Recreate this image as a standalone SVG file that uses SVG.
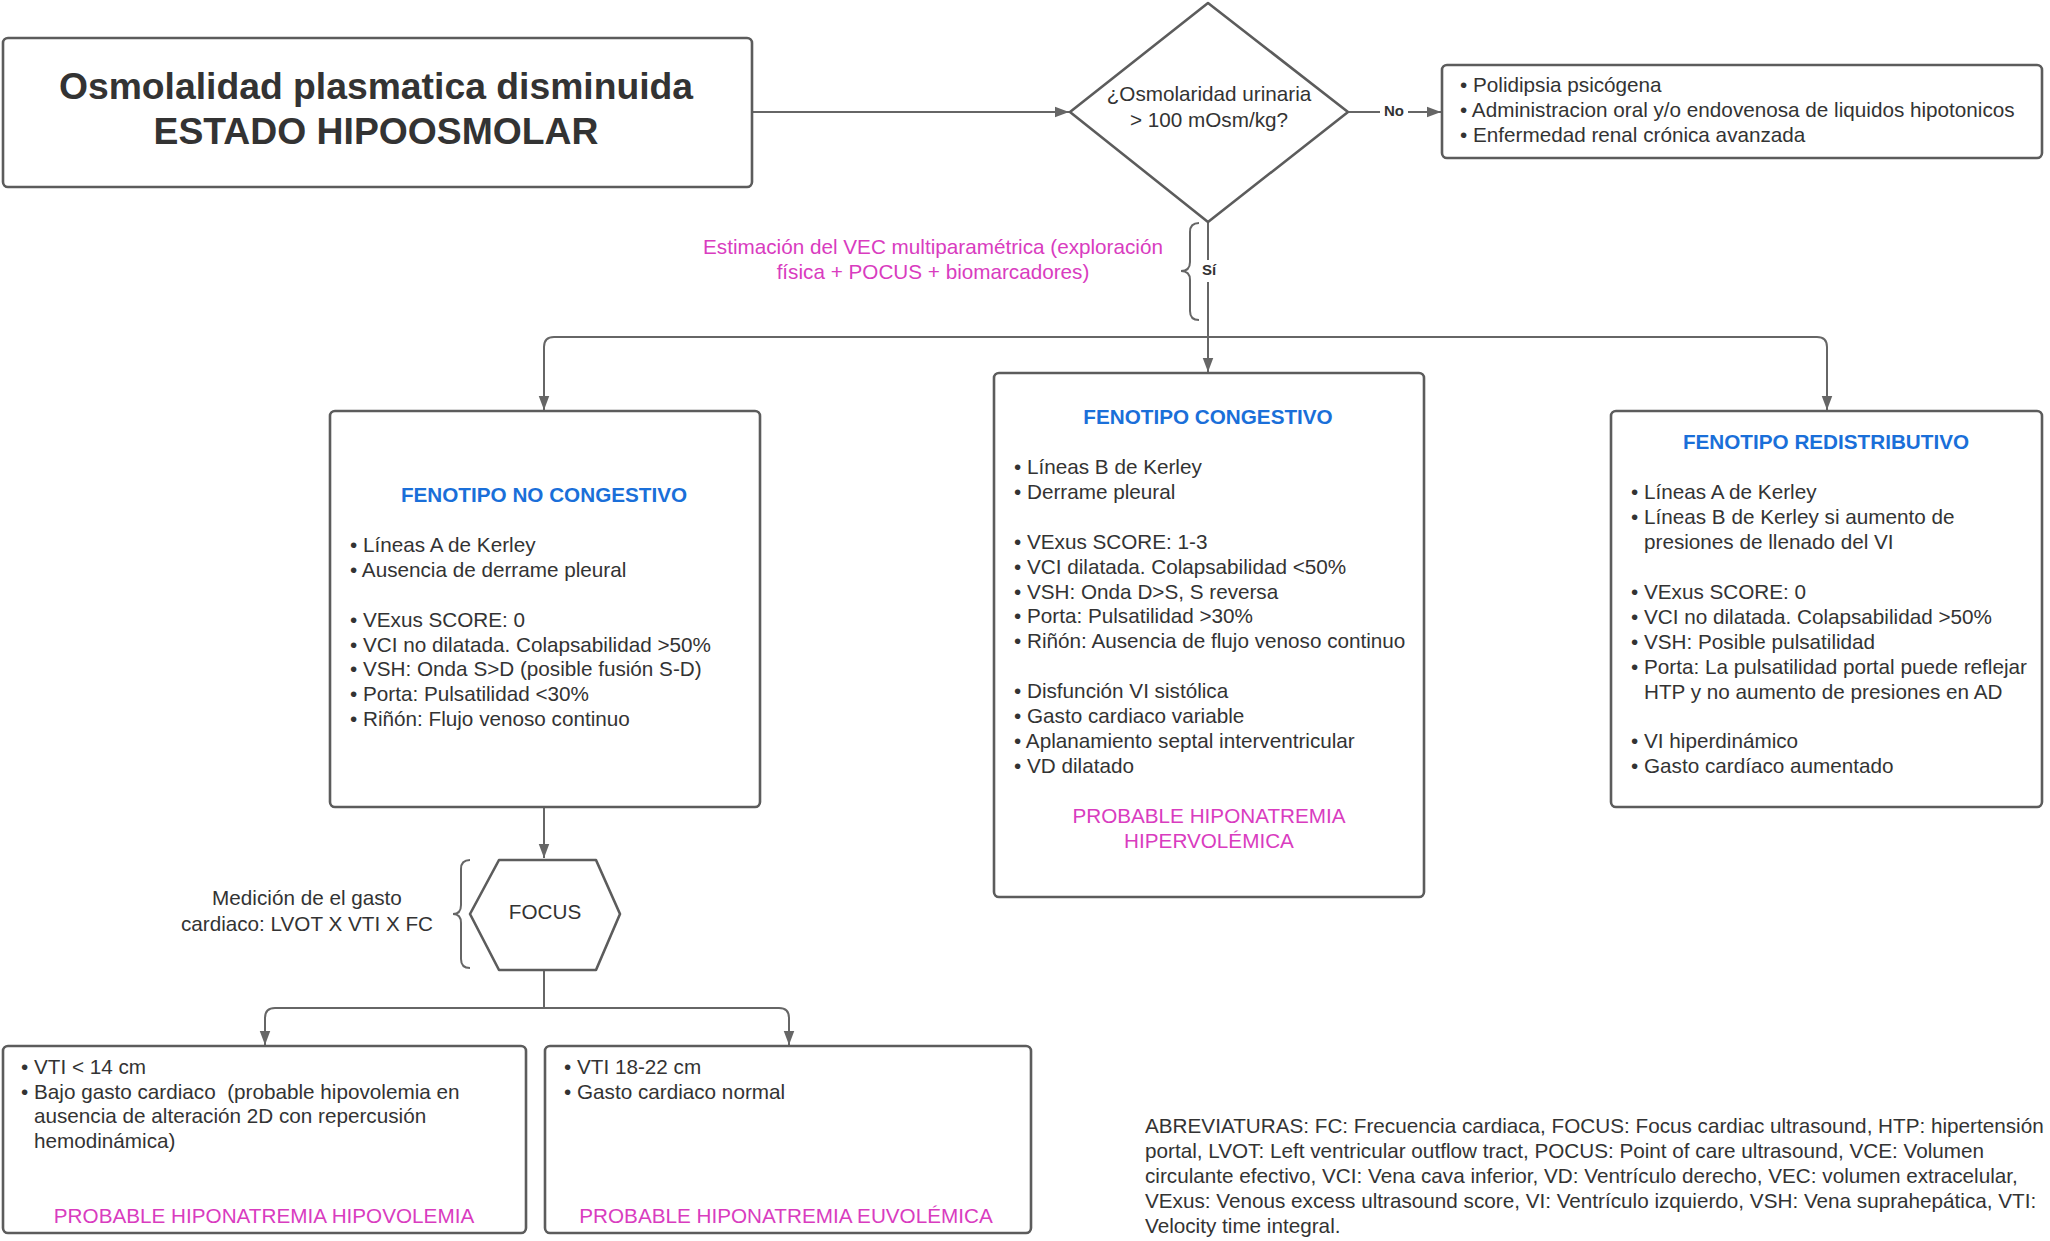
<svg xmlns="http://www.w3.org/2000/svg" width="2050" height="1241" viewBox="0 0 2050 1241">
<style>
text{font-family:"Liberation Sans",Arial,sans-serif;fill:#333;font-size:20.7px}
.box{fill:#fff;stroke:#5c5c5c;stroke-width:2.6}
.con{fill:none;stroke:#666;stroke-width:2}
.brace{fill:none;stroke:#666;stroke-width:2}
.h{font-weight:bold;fill:#1a6fd9;text-anchor:middle}
.p{fill:#d93cbf}
.c{text-anchor:middle}
.lbl{font-weight:bold;font-size:15px;text-anchor:middle}
.t{font-weight:bold;font-size:37.3px;text-anchor:middle}
</style>
<defs>
<marker id="ah" markerUnits="userSpaceOnUse" markerWidth="14" markerHeight="18" refX="16" refY="6" viewBox="0 0 16 12" orient="auto">
<path d="M0 0 L16 6 L0 12 Z" fill="#666"/>
</marker>
</defs>
<rect width="2050" height="1241" fill="#fff"/>

<g id="connectors">
<path class="con" d="M752 112 H1069" marker-end="url(#ah)"/>
<path class="con" d="M1348 112 H1441" marker-end="url(#ah)"/>
<path class="con" d="M1208 222 V372" marker-end="url(#ah)"/>
<path class="con" d="M1208 337 H554 Q544 337 544 347 V410" marker-end="url(#ah)"/>
<path class="con" d="M1208 337 H1817 Q1827 337 1827 347 V410" marker-end="url(#ah)"/>
<path class="con" d="M544 807 V858" marker-end="url(#ah)"/>
<path class="con" d="M544 970 V1008"/>
<path class="con" d="M544 1008 H275 Q265 1008 265 1018 V1045" marker-end="url(#ah)"/>
<path class="con" d="M544 1008 H779 Q789 1008 789 1018 V1045" marker-end="url(#ah)"/>
<rect x="1380" y="102" width="28" height="20" fill="#fff"/>
<text class="lbl" x="1394" y="116">No</text>
<rect x="1199" y="260" width="20" height="22" fill="#fff"/>
<text class="lbl" x="1209" y="275">Sí</text>
<path class="brace" d="M1199 223 Q1190 223 1190 232 V262 Q1190 271 1181 271 Q1190 271 1190 280 V311 Q1190 320 1199 320"/>
<path class="brace" d="M470 860 Q461 860 461 869 V905 Q461 914 453 914 Q461 914 461 923 V959 Q461 968 470 968"/>
<text class="p c" x="933" y="254">Estimación del VEC multiparamétrica (exploración</text>
<text class="p c" x="933" y="279">física + POCUS + biomarcadores)</text>
<text class="c" x="307" y="905">Medición de el gasto</text>
<text class="c" x="307" y="931">cardiaco: LVOT X VTI X FC</text>
</g>

<g id="start">
<rect class="box" x="3" y="38" width="749" height="149" rx="5"/>
<text class="t" x="376" y="99">Osmolalidad plasmatica disminuida</text>
<text class="t" x="376" y="144">ESTADO HIPOOSMOLAR</text>
</g>

<g id="decision">
<path class="box" d="M1208 3 L1348 112 L1208 222 L1070 112 Z" stroke-linejoin="round"/>
<text class="c" x="1209" y="101">¿Osmolaridad urinaria</text>
<text class="c" x="1209" y="127">&gt; 100 mOsm/kg?</text>
</g>

<g id="no-causes">
<rect class="box" x="1442" y="65" width="600" height="93" rx="5"/>
<text x="1460" y="92">• Polidipsia psicógena</text>
<text x="1460" y="117">• Administracion oral y/o endovenosa de liquidos hipotonicos</text>
<text x="1460" y="142">• Enfermedad renal crónica avanzada</text>
</g>

<g id="no-congestivo">
<rect class="box" x="330" y="411" width="430" height="396" rx="5"/>
<text class="h" x="544" y="502">FENOTIPO NO CONGESTIVO</text>
<text x="350" y="552">• Líneas A de Kerley</text>
<text x="350" y="577">• Ausencia de derrame pleural</text>
<text x="350" y="627">• VExus SCORE: 0</text>
<text x="350" y="652">• VCI no dilatada. Colapsabilidad &gt;50%</text>
<text x="350" y="676">• VSH: Onda S&gt;D (posible fusión S-D)</text>
<text x="350" y="701">• Porta: Pulsatilidad &lt;30%</text>
<text x="350" y="726">• Riñón: Flujo venoso continuo</text>
</g>

<g id="congestivo">
<rect class="box" x="994" y="373" width="430" height="524" rx="5"/>
<text class="h" x="1208" y="424">FENOTIPO CONGESTIVO</text>
<text x="1014" y="474">• Líneas B de Kerley</text>
<text x="1014" y="499">• Derrame pleural</text>
<text x="1014" y="549">• VExus SCORE: 1-3</text>
<text x="1014" y="574">• VCI dilatada. Colapsabilidad &lt;50%</text>
<text x="1014" y="599">• VSH: Onda D&gt;S, S reversa</text>
<text x="1014" y="623">• Porta: Pulsatilidad &gt;30%</text>
<text x="1014" y="648">• Riñón: Ausencia de flujo venoso continuo</text>
<text x="1014" y="698">• Disfunción VI sistólica</text>
<text x="1014" y="723">• Gasto cardiaco variable</text>
<text x="1014" y="748">• Aplanamiento septal interventricular</text>
<text x="1014" y="773">• VD dilatado</text>
<text class="p c" x="1209" y="823">PROBABLE HIPONATREMIA</text>
<text class="p c" x="1209" y="848">HIPERVOLÉMICA</text>
</g>

<g id="redistributivo">
<rect class="box" x="1611" y="411" width="431" height="396" rx="5"/>
<text class="h" x="1826" y="449">FENOTIPO REDISTRIBUTIVO</text>
<text x="1631" y="499">• Líneas A de Kerley</text>
<text x="1631" y="524">• Líneas B de Kerley si aumento de</text>
<text x="1644" y="549">presiones de llenado del VI</text>
<text x="1631" y="599">• VExus SCORE: 0</text>
<text x="1631" y="624">• VCI no dilatada. Colapsabilidad &gt;50%</text>
<text x="1631" y="649">• VSH: Posible pulsatilidad</text>
<text x="1631" y="674">• Porta: La pulsatilidad portal puede reflejar</text>
<text x="1644" y="699">HTP y no aumento de presiones en AD</text>
<text x="1631" y="748">• VI hiperdinámico</text>
<text x="1631" y="773">• Gasto cardíaco aumentado</text>
</g>

<g id="focus">
<path class="box" d="M499 860 L596 860 L620 914 L596 970 L499 970 L470 914 Z" stroke-linejoin="round"/>
<text class="c" x="545" y="919">FOCUS</text>
</g>

<g id="hipovolemia">
<rect class="box" x="3" y="1046" width="523" height="187" rx="5"/>
<text x="21" y="1074">• VTI &lt; 14 cm</text>
<text x="21" y="1099">• Bajo gasto cardiaco &#160;(probable hipovolemia en</text>
<text x="34" y="1123">ausencia de alteración 2D con repercusión</text>
<text x="34" y="1148">hemodinámica)</text>
<text class="p c" x="264" y="1223">PROBABLE HIPONATREMIA HIPOVOLEMIA</text>
</g>

<g id="euvolemica">
<rect class="box" x="545" y="1046" width="486" height="187" rx="5"/>
<text x="564" y="1074">• VTI 18-22 cm</text>
<text x="564" y="1099">• Gasto cardiaco normal</text>
<text class="p c" x="786" y="1223">PROBABLE HIPONATREMIA EUVOLÉMICA</text>
</g>

<g id="abreviaturas">
<text x="1145" y="1133">ABREVIATURAS: FC: Frecuencia cardiaca, FOCUS: Focus cardiac ultrasound, HTP: hipertensión</text>
<text x="1145" y="1158">portal, LVOT: Left ventricular outflow tract, POCUS: Point of care ultrasound, VCE: Volumen</text>
<text x="1145" y="1183">circulante efectivo, VCI: Vena cava inferior, VD: Ventrículo derecho, VEC: volumen extracelular,</text>
<text x="1145" y="1208">VExus: Venous excess ultrasound score, VI: Ventrículo izquierdo, VSH: Vena suprahepática, VTI:</text>
<text x="1145" y="1233">Velocity time integral.</text>
</g>
</svg>
